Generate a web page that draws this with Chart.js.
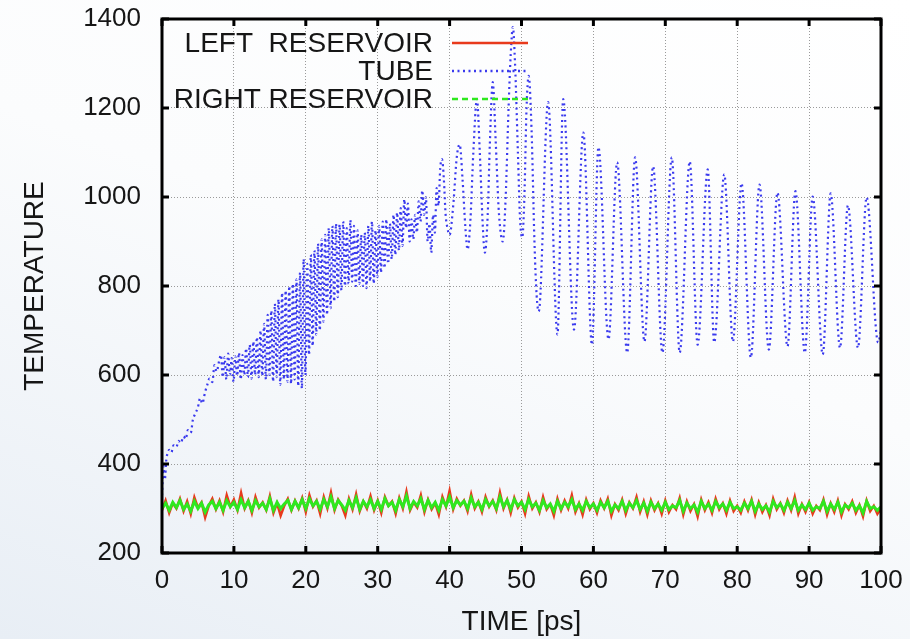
<!DOCTYPE html>
<html><head><meta charset="utf-8">
<script src="https://cdn.jsdelivr.net/npm/chart.js@4.4.1/dist/chart.umd.min.js"></script>
<style>
html,body{margin:0;padding:0;width:910px;height:639px;overflow:hidden;
background:linear-gradient(200deg,#ffffff 0%,#fbfcfd 45%,#e8eef5 100%);}
#wrap{position:relative;width:910px;height:639px;}
</style></head><body><div id="wrap"><canvas id="c" width="910" height="639"></canvas></div>
<script>
// ---------- data ----------
const seriesLabels = ["LEFT  RESERVOIR", "TUBE", "RIGHT RESERVOIR"];
const xTicks = [0,10,20,30,40,50,60,70,80,90,100];
const yTicks = [200,400,600,800,1000,1200,1400];
const reservoirStep = 0.5; // ps between reservoir samples

const tubeTime = [
 0,0.2,0.4,0.6,0.8,1.0,1.3,1.6,2.0,2.3,2.6,3.0,3.3,3.6,4.0,4.3,4.6,5.0,5.3,5.6,6.0,6.3,6.6,7.0,7.3,7.6,8.0,
 8.2,8.45,8.7,8.95,9.2,9.45,9.7,9.95,10.2,10.45,10.7,10.95,11.2,11.45,11.7,11.95,12.2,12.45,12.7,12.95,13.2,13.45,
 13.7,13.95,14.2,14.45,14.7,14.95,15.2,15.45,15.7,15.95,16.2,16.45,16.7,16.95,17.2,17.45,17.7,17.95,18.2,18.45,18.7,18.95,19.2,19.45,19.7,19.95,20.2,20.45,
 20.7,20.95,21.2,21.45,21.7,21.95,22.2,22.45,22.7,22.95,23.2,23.45,23.7,23.95,24.2,24.45,
 24.7,24.95,25.2,25.45,25.7,25.95,26.2,26.45,26.7,26.95,27.2,27.45,27.7,27.95,28.2,28.45,28.7,28.95,29.2,29.45,29.7,29.95,30.2,30.45,30.7,30.95,31.2,31.45,31.7,31.95,32.2,32.45,32.7,32.95,33.2,33.45,
 33.7,33.95,34.2,34.45,34.7,34.95,35.2,35.45,35.7,35.95,36.2,36.45,36.7,36.95,37.2,37.45,37.7,37.95,38.2,38.45,38.7,38.95,39.2,39.45,39.7,40.0,
 40.5,41.0,41.4,41.8,42.2,42.5,42.9,43.3,43.8,44.2,44.6,44.9,45.3,45.6,46.0,46.4,46.8,47.1,47.4,47.8,48.2,48.5,48.8,49.1,49.5,49.8,50.1,50.4,50.7,51.0,51.4,51.8,52.1,
 52.4,53.7,55.0,55.8,57.3,58.6,59.8,60.7,62.1,63.3,64.7,65.8,67.1,68.3,69.6,70.9,72.0,73.4,74.5,75.9,76.8,78.2,79.4,80.6,81.9,83.1,84.4,85.6,87.0,88.1,89.4,90.5,91.9,93.0,94.3,95.4,96.8,98.0,99.6,100
];
const tubeTemp = [
 330,395,365,410,425,432,426,442,438,452,447,462,456,476,470,500,512,528,548,536,562,578,592,584,622,608,636,
 645,595,640,590,648,600,638,585,642,598,650,590,645,600,660,595,668,592,675,600,685,595,
 700,598,715,590,735,600,745,585,760,595,770,578,785,590,790,585,800,580,805,590,815,575,830,570,860,600,850,645,
 870,665,880,690,895,700,905,720,915,735,930,750,935,765,940,775,
 938,790,945,800,930,805,948,810,935,800,925,805,915,800,920,795,935,810,945,805,925,820,935,830,945,840,950,850,940,860,960,870,965,880,975,890,
 995,930,985,900,950,905,960,920,990,945,1015,960,1000,900,940,875,960,920,1020,980,1065,1085,1040,960,930,915,
 980,1090,1118,1040,930,882,950,1100,1220,1100,940,875,960,1120,1258,1130,980,920,900,1000,1200,1320,1382,1300,1100,950,909,1000,1200,1272,1150,900,780,
 743,1213,691,1220,702,1145,668,1112,680,1078,650,1089,675,1069,650,1089,650,1080,668,1062,673,1051,675,1031,639,1028,657,1010,664,1013,650,1001,646,1008,661,981,661,999,673,700
];
const leftReservoir = [
 296,318,290,312,300,322,294,316,288,325,302,314,280,306,322,298,318,292,330,304,
 320,296,335,300,318,290,326,302,314,296,328,290,312,284,306,322,296,318,300,324,
 292,330,304,318,288,326,300,336,296,320,306,284,322,298,332,294,316,300,328,296,
 318,290,326,306,316,288,324,300,338,296,314,302,330,292,320,298,312,286,326,304,
 340,298,322,306,318,294,332,300,316,292,326,304,318,296,336,300,320,290,324,302,
 316,288,328,300,314,292,326,298,310,284,322,296,318,300,330,292,312,286,320,298,
 312,290,318,300,322,284,310,296,320,288,314,300,326,292,316,286,318,296,312,288,
 318,292,308,298,324,286,316,294,310,282,320,296,314,290,322,298,312,288,318,294,
 306,290,316,296,320,286,314,292,308,284,322,298,312,290,318,296,326,288,310,292,
 314,288,306,296,320,286,312,292,318,284,310,298,316,290,308,282,318,294,306,288,
 300
];
const rightReservoir = [
 300,312,296,314,302,318,298,310,294,316,300,312,292,308,316,300,314,296,318,304,
 314,298,320,302,316,296,318,304,312,298,322,296,314,300,310,318,298,316,302,320,
 300,322,306,316,298,320,304,326,300,318,308,296,318,302,324,298,316,304,320,300,
 316,298,322,306,314,296,320,304,328,300,316,306,322,298,318,302,314,296,320,306,
 326,302,318,308,316,300,324,304,314,298,320,306,316,300,326,304,318,298,320,306,
 314,298,320,304,312,296,318,302,310,294,316,300,314,304,320,298,310,296,316,302,
 310,296,314,302,316,294,308,300,316,296,312,302,318,298,312,294,314,300,310,296,
 314,298,306,302,318,294,312,300,308,292,316,300,310,296,316,302,310,296,314,300,
 304,296,312,300,316,294,310,298,306,292,316,302,310,296,314,300,318,296,308,298,
 312,296,304,300,316,294,310,298,314,292,308,302,312,296,306,290,316,300,304,296,
 304
];

// ---------- build ----------
const toPts = (ts, vs) => vs.map((v, i) => ({x: ts[i], y: v}));
const resPts = vs => vs.map((v, i) => ({x: i * reservoirStep, y: v}));
const FONT = "'Liberation Sans', Arial, Helvetica, sans-serif";
const INK = '#161616';

const framePlugin = {
  id: 'frame',
  afterDraw(chart) {
    const {ctx, chartArea: a, scales} = chart;
    ctx.save();
    ctx.strokeStyle = '#000';
    ctx.lineWidth = 3;
    ctx.lineCap = 'butt';
    ctx.beginPath();
    const tl = 7;
    scales.x.ticks.forEach(t => {
      const px = scales.x.getPixelForValue(t.value);
      ctx.moveTo(px, a.bottom); ctx.lineTo(px, a.bottom - tl);
      ctx.moveTo(px, a.top); ctx.lineTo(px, a.top + tl);
    });
    scales.y.ticks.forEach(t => {
      const py = scales.y.getPixelForValue(t.value);
      ctx.moveTo(a.left, py); ctx.lineTo(a.left + tl, py);
      ctx.moveTo(a.right, py); ctx.lineTo(a.right - tl, py);
    });
    ctx.stroke();
    ctx.strokeRect(a.left, a.top, a.right - a.left, a.bottom - a.top);
    // legend (gnuplot style: right-aligned text, sample to the right)
    ctx.font = "28px " + FONT;
    ctx.fillStyle = INK;
    ctx.textAlign = 'right';
    ctx.textBaseline = 'middle';
    const order = [1, 2, 0]; // left, tube, right by dataset index
    order.forEach((di, row) => {
      const ds = chart.data.datasets[di];
      const y = 43 + row * 28;
      ctx.fillText(ds.label, 433, y + 1);
      ctx.save();
      ctx.strokeStyle = ds.borderColor;
      ctx.lineWidth = ds.legendWidth;
      ctx.setLineDash(ds.legendDash);
      ctx.lineCap = 'butt';
      ctx.beginPath();
      ctx.moveTo(452, y); ctx.lineTo(528, y);
      ctx.stroke();
      ctx.restore();
    });
    ctx.restore();
  }
};

const fixBox = (w, h) => s => {
  if (w !== null) s.width = w;
  if (h !== null) s.height = h;
  s.paddingTop = 0; s.paddingBottom = 0; s.paddingLeft = 0; s.paddingRight = 0;
};

new Chart(document.getElementById('c'), {
  type: 'line',
  data: {
    datasets: [
      {label: seriesLabels[2], data: resPts(rightReservoir), borderColor: '#2ee81e', borderWidth: 3,
       pointRadius: 0, tension: 0, order: 0, legendDash: [6,4], legendWidth: 2.5},
      {label: seriesLabels[0], data: resPts(leftReservoir), borderColor: '#e83a1c', borderWidth: 2.5,
       pointRadius: 0, tension: 0, order: 1, legendDash: [], legendWidth: 2.5},
      {label: seriesLabels[1], data: toPts(tubeTime, tubeTemp), borderColor: '#3a3aee', borderWidth: 2.2,
       borderDash: [2, 3.5], pointRadius: 0, cubicInterpolationMode: 'monotone', order: 2,
       legendDash: [2, 3.5], legendWidth: 2.5}
    ]
  },
  options: {
    responsive: false,
    animation: false,
    devicePixelRatio: 1,
    layout: {padding: {top: 19, right: 29, left: 0, bottom: 0}},
    plugins: {legend: {display: false}, tooltip: {enabled: false}},
    scales: {
      x: {
        type: 'linear', min: 0, max: 100,
        afterBuildTicks: s => { s.ticks = xTicks.map(v => ({value: v})); },
        ticks: {font: {family: FONT, size: 26}, color: INK, padding: 12, maxRotation: 0, autoSkip: false,
                callback: v => String(v)},
        grid: {color: '#9a9a9a', lineWidth: 1, drawTicks: false},
        border: {display: false, dash: [1, 2]},
        title: {display: true, text: 'TIME [ps]', font: {family: FONT, size: 28}, color: INK, padding: {top: 0, bottom: 0}},
        afterFit: fixBox(null, 86)
      },
      y: {
        type: 'linear', min: 200, max: 1400,
        afterBuildTicks: s => { s.ticks = yTicks.map(v => ({value: v})); },
        ticks: {font: {family: FONT, size: 26}, color: INK, padding: 21, autoSkip: false,
                callback: v => String(v)},
        grid: {color: '#9a9a9a', lineWidth: 1, drawTicks: false},
        border: {display: false, dash: [1, 2]},
        title: {display: true, text: 'TEMPERATURE', font: {family: FONT, size: 28}, color: INK, padding: {top: 18, bottom: 0}},
        afterFit: fixBox(162, null)
      }
    }
  },
  plugins: [framePlugin]
});
</script>
</body></html>
